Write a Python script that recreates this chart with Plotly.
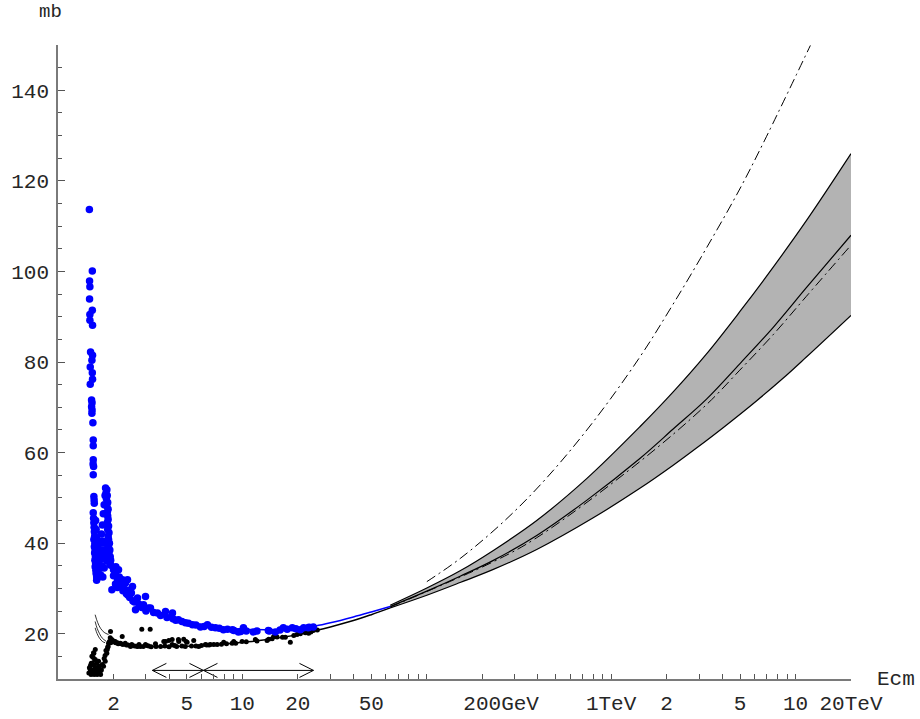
import plotly.graph_objects as go

# ---------------- data ----------------
# blue data points (Ecm in GeV, sigma in mb)
blue_E = [1.480, 1.535, 1.483, 1.489, 1.483, 1.535, 1.489, 1.489, 1.539, 1.502, 1.539, 1.527, 1.496, 1.535,
          1.539, 1.496, 1.521, 1.530, 1.521, 1.530, 1.527, 1.546, 1.553, 1.553, 1.553, 1.550, 1.559, 1.553,
          1.565, 1.570, 1.573, 1.553, 1.560, 1.565, 1.570, 1.575, 1.580, 1.565, 1.585, 1.575, 1.590, 1.580,
          1.595, 1.585, 1.600, 1.590, 1.605, 1.610, 1.620, 1.633,
          1.60, 1.61, 1.62, 1.63, 1.64, 1.65, 1.645, 1.62,
          1.64, 1.66, 1.68, 1.70, 1.72, 1.74, 1.76, 1.78, 1.80,
          1.68, 1.70, 1.72, 1.74, 1.70, 1.73, 1.76, 1.78, 1.75, 1.78, 1.80, 1.82, 1.85,
          1.811, 1.84, 1.82, 1.85, 1.83, 1.86, 1.84, 1.87, 1.85, 1.86, 1.87, 1.85, 1.88, 1.86, 1.89, 1.87,
          1.88, 1.90, 1.88, 1.91, 1.89, 1.92, 1.93, 1.927,
          2.001, 2.05, 2.103, 2.129, 1.96, 2.239, 2.323, 2.382, 2.474, 2.535, 2.50, 2.666, 2.699, 2.982,
          2.909, 3.096, 3.174, 2.633, 3.463, 3.828, 4.177, 4.501, 4.911, 5.359, 5.923, 6.462, 7.141, 7.890,
          8.829, 10.13, 9.512, 11.47, 13.83, 15.10, 16.68, 18.66, 20.62, 22.78, 24.25,
          2.0, 2.05, 2.1, 2.15, 2.2, 2.25, 2.3, 2.35, 2.4, 2.45, 2.55, 2.6, 2.75, 2.8, 2.85, 2.95, 3.0,
          3.3, 3.6, 3.9, 4.2, 4.35, 4.7, 5.1, 5.6, 6.2, 6.8, 7.5, 8.3, 9.0, 9.8, 10.5, 12.0, 14.0, 16.0,
          17.5, 19.5, 21.5, 23.0, 2.06, 1.93]
blue_sigma = [113.7, 100.1, 97.9, 96.6, 93.9, 91.4, 90.5, 89.2, 88.1, 82.2, 81.5, 80.4, 78.9, 77.6,
              76.2, 75.1, 71.6, 71.0, 70.1, 69.4, 68.7, 66.6, 62.8, 61.5, 58.4, 57.5, 56.9, 55.1,
              50.3, 49.5, 48.8, 46.7, 45.5, 44.5, 43.5, 42.5, 41.5, 40.8, 40.0, 39.2, 38.5, 37.8,
              37.0, 36.2, 35.5, 34.8, 34.0, 33.3, 32.6, 32.3,
              45.0, 43.0, 41.0, 39.0, 37.0, 35.0, 33.5, 31.8,
              34.0, 36.0, 38.0, 40.0, 42.0, 44.0, 46.5, 48.5, 50.5,
              34.5, 36.5, 38.5, 40.5, 33.0, 35.0, 37.5, 40.0, 32.5, 34.5, 36.5, 38.5, 36.0,
              52.2, 51.8, 51.0, 50.5, 49.8, 49.0, 48.2, 47.5, 46.8, 46.0, 45.2, 44.5, 43.8, 43.0, 42.3, 41.5,
              40.8, 40.0, 39.2, 38.5, 37.8, 37.0, 36.2, 35.2,
              34.1, 33.5, 31.9, 34.1, 29.7, 31.9, 31.2, 31.9, 29.7, 30.4, 29.0, 27.5, 27.9, 28.2,
              26.4, 25.7, 25.7, 25.3, 24.6, 24.9, 24.6, 23.1, 22.4, 22.0, 21.5, 22.0, 21.3, 20.9,
              20.9, 21.3, 20.4, 20.4, 20.7, 20.4, 21.3, 21.3, 20.9, 21.3, 21.5,
              32.8, 31.0, 30.2, 32.5, 30.8, 29.5, 29.8, 28.8, 28.5, 28.0, 27.2, 27.0, 26.5, 26.2, 25.8, 25.6, 25.0,
              24.7, 24.0, 23.6, 23.3, 23.0, 22.7, 22.3, 21.9, 21.6, 21.4, 21.2, 21.0, 20.7, 20.5, 20.6, 20.6, 20.6, 20.8,
              21.0, 21.1, 21.3, 21.4, 34.8, 35.2]

# black data points
black_E = [1.470, 1.535, 1.565, 1.666, 1.702, 1.593, 1.559, 1.527, 1.593, 1.515, 1.660, 1.496, 1.593, 1.695,
           1.624, 1.766, 1.804, 1.840, 1.880, 1.920, 1.927, 1.959, 2.044, 2.175, 2.315, 2.513, 2.848, 3.162,
           2.792, 3.031, 2.230, 2.474, 2.689, 2.982, 3.378, 3.828, 4.162, 4.518, 4.808, 5.016, 5.447, 5.799,
           6.303, 7.919, 8.796, 9.963, 13.61, 14.78, 17.10, 18.20, 19.79, 21.94, 24.25,
           3.748, 3.989, 4.501, 4.95, 4.162, 6.709, 8.974, 11.76, 13.88, 15.42, 20.62, 22.87,
           2.1, 2.2, 2.4, 2.6, 2.9, 3.2, 3.6, 4.0, 4.4, 4.9, 5.3, 6.0, 6.6, 7.3, 8.2, 9.2, 10.5, 12.0,
           14.5, 16.5, 19.0, 23.5, 25.5, 1.85, 1.87, 1.90, 1.93, 1.97, 2.0,
           1.50, 1.52, 1.55, 1.57, 1.60, 1.62, 1.64, 1.66, 1.68, 1.72, 1.74, 1.78, 1.80, 1.82, 1.86,
           1.55, 1.58, 1.48, 1.51, 1.57, 1.63, 1.66,
           2.05, 2.12, 2.25, 2.35, 2.5, 2.7, 2.75, 3.1, 3.4, 3.8, 4.3, 4.7, 5.6, 6.4, 7.0, 7.7]
black_sigma = [11.3, 13.5, 15.7, 12.8, 11.0, 16.5, 15.8, 15.0, 14.3, 13.5, 13.9, 12.1, 12.4, 11.7,
               11.3, 12.8, 13.9, 15.7, 17.9, 19.1, 20.5, 18.7, 18.3, 17.9, 17.9, 17.6, 21.0, 21.0,
               17.2, 17.4, 19.4, 17.2, 17.2, 17.6, 17.8, 18.3, 18.7, 18.3, 18.8, 18.1, 18.5, 17.2,
               17.6, 18.1, 17.9, 18.3, 18.5, 19.4, 19.2, 18.1, 19.8, 20.2, 20.7,
               18.3, 18.5, 18.7, 18.3, 17.6, 17.6, 18.3, 18.7, 18.8, 19.3, 20.0, 20.1,
               18.0, 17.8, 17.5, 17.3, 17.2, 17.1, 17.2, 17.1, 17.2, 17.2, 17.3, 17.4, 17.5, 17.6, 17.8, 17.9, 18.2, 18.4,
               18.9, 19.2, 19.6, 20.4, 20.8, 16.5, 17.2, 18.3, 18.0, 18.2, 18.4,
               13.0, 12.0, 11.5, 13.0, 12.0, 13.5, 12.5, 11.8, 12.2, 12.0, 13.2, 14.5, 15.2, 16.3, 17.0,
               14.8, 14.2, 12.5, 11.0, 11.0, 11.0, 12.6,
               18.0, 17.8, 17.6, 17.5, 17.4, 17.3, 17.6, 17.3, 17.2, 17.3, 17.4, 17.3, 17.3, 17.5, 17.6, 17.7]

# fit curves at low / medium energy
blue_fit_E = [1.9, 2.0, 2.2, 2.5, 3.0, 4.0, 5.0, 7.0, 10.0, 15.0, 20.0, 25.0, 30.0, 40.0, 50.0, 63.35]
blue_fit = [36.5, 33.0, 30.2, 28.0, 25.9, 23.7, 22.6, 21.6, 21.0, 20.9, 21.1, 21.7, 22.4, 23.7, 24.8, 26.0]
black_fit_E = [1.92, 2.0, 2.3, 2.8, 3.5, 4.5, 6.0, 8.0, 10.0, 13.0, 17.0, 20.0, 25.0, 30.0, 40.0, 50.0, 63.35]
black_fit = [19.4, 18.4, 17.7, 17.3, 17.15, 17.2, 17.35, 17.7, 18.1, 18.6, 19.3, 19.8, 20.7, 21.5, 22.9, 24.2, 25.7]

arc_E = [[1.59, 1.64, 1.70, 1.78, 1.88], [1.59, 1.63, 1.68, 1.74, 1.83], [1.59, 1.63, 1.68, 1.74, 1.80]]
arc_sigma = [[24.2, 22.5, 21.2, 20.3, 19.8], [22.7, 21.2, 20.0, 19.0, 18.3], [21.3, 20.0, 19.0, 18.3, 18.0]]

# high-energy band
band_top_E = [63.35, 100.1, 151.7, 229.8, 394.9, 739.4, 1432, 2171, 3292, 4986, 6957, 11455, 20000]
band_top = [26.3, 30.1, 33.9, 38.4, 45.0, 54.3, 65.7, 73.4, 81.8, 91.1, 98.9, 111.2, 126.0]
band_bot_E = [63.35, 100.1, 151.7, 229.8, 394.9, 799.8, 1432, 2171, 2904, 4049, 6139, 8558, 11455, 20000]
band_bot = [25.7, 28.5, 31.3, 34.2, 38.6, 45.6, 52.1, 57.2, 61.0, 65.5, 71.4, 76.4, 81.1, 90.3]
mid_E = [63.35, 100.1, 151.7, 229.8, 394.9, 739.4, 1432, 2171, 3292, 4986, 7553, 11455, 20000]
mid = [26.0, 29.4, 32.7, 36.2, 41.7, 49.5, 58.7, 65.2, 71.8, 79.6, 87.6, 96.4, 108.0]
dd_E = [63.35, 229.8, 394.9, 1432, 3292, 4986, 7553, 11455, 20000]
dd = [25.9, 35.9, 41.2, 58.0, 70.6, 78.2, 86.0, 94.5, 105.8]
upper_E = [100.1, 151.7, 260.4, 437.9, 800.0, 1432, 2171, 3292, 4986, 6810, 12040]
upper = [31.5, 36.6, 44.7, 54.0, 66.8, 81.1, 92.8, 105.2, 118.2, 129.0, 149.9]

# double arrows (E ranges) at sigma level
arrow_spans = [(3.25, 6.15), (6.15, 24.3)]
arrow_level = 11.9

# ticks
x_tickvals = [2, 5, 10, 20, 50, 100, 200, 1000, 2000, 5000, 10000, 20000]
x_ticktext = ["2", "5", "10", "20", "50", "", "\u00a0\u00a0\u00a0200GeV", "1TeV", "2", "5", "10", "20TeV"]
x_minor = [3, 4, 6, 7, 8, 9, 30, 40, 60, 70, 80, 90, 300, 400, 500, 600, 700, 800, 900,
           3000, 4000, 6000, 7000, 8000, 9000]
y_tickvals = [20, 40, 60, 80, 100, 120, 140]
y_minor = [15, 25, 30, 35, 45, 50, 55, 65, 70, 75, 85, 90, 95, 105, 110, 115, 125, 130, 135, 145]

# ---------------- figure ----------------
FONT = "Liberation Mono, Courier New, monospace"
TXT = "#262626"
fig = go.Figure()

# band: bottom edge, then top edge filled down to it
fig.add_trace(go.Scatter(x=band_bot_E, y=band_bot, mode="lines",
                         line=dict(color="black", width=1.2, shape="spline"), showlegend=False))
fig.add_trace(go.Scatter(x=band_top_E, y=band_top, mode="lines", fill="tonexty", fillcolor="#b3b3b3",
                         line=dict(color="black", width=1.2, shape="spline"), showlegend=False))
fig.add_trace(go.Scatter(x=mid_E, y=mid, mode="lines", line=dict(color="black", width=1.2, shape="spline"),
                         showlegend=False))
for xs, ys in [(dd_E, dd), (upper_E, upper)]:
    fig.add_trace(go.Scatter(x=xs, y=ys, mode="lines",
                             line=dict(color="black", width=1, dash="10px,4px,2px,4px", shape="spline"),
                             showlegend=False))

# low energy arcs
for xs, ys in zip(arc_E, arc_sigma):
    fig.add_trace(go.Scatter(x=xs, y=ys, mode="lines", line=dict(color="black", width=0.8, shape="spline"),
                             showlegend=False))

# fits
fig.add_trace(go.Scatter(x=black_fit_E, y=black_fit, mode="lines",
                         line=dict(color="black", width=1.5, shape="spline"), showlegend=False))
fig.add_trace(go.Scatter(x=blue_fit_E, y=blue_fit, mode="lines",
                         line=dict(color="#0000ff", width=1.5, shape="spline"), showlegend=False))

# data points
fig.add_trace(go.Scatter(x=black_E, y=black_sigma, mode="markers",
                         marker=dict(color="black", size=5, line=dict(width=0)), showlegend=False))
fig.add_trace(go.Scatter(x=blue_E, y=blue_sigma, mode="markers",
                         marker=dict(color="#0000ff", size=7.5, line=dict(width=0)), showlegend=False))

# double arrows
head_dec = 0.076   # head length in decades
head_half = 1.55   # head half width in mb
ax, ay = [], []
for e0, e1 in arrow_spans:
    ax += [e0, e1, None]
    ay += [arrow_level, arrow_level, None]
    for tip, sgn in [(e0, 1), (e1, -1)]:
        back = tip * 10 ** (sgn * head_dec)
        ax += [back, tip, back, None]
        ay += [arrow_level + head_half, arrow_level, arrow_level - head_half, None]
fig.add_trace(go.Scatter(x=ax, y=ay, mode="lines", line=dict(color="black", width=1), showlegend=False))

axis_common = dict(showgrid=False, zeroline=False, showline=True, linecolor="#7a7a7a", linewidth=1.5,
                   ticks="inside", tickcolor="#555555", tickwidth=1, automargin=False,
                   tickfont=dict(family=FONT, size=21, color=TXT))

fig.update_xaxes(type="log", range=[0, 4.30103], tickmode="array", tickvals=x_tickvals,
                 ticktext=x_ticktext, ticklen=5, ticklabelstandoff=4,
                 minor=dict(tickvals=x_minor, ticks="inside", ticklen=5, tickcolor="#555555", tickwidth=1),
                 **axis_common)
fig.update_yaxes(range=[10, 150], tickmode="array", tickvals=y_tickvals, ticklen=7, ticklabelstandoff=3,
                 minor=dict(tickvals=y_minor, ticks="inside", ticklen=4, tickcolor="#555555", tickwidth=1),
                 **axis_common)

fig.add_annotation(text="mb", xref="paper", yref="paper", x=-0.0095, y=1.052, showarrow=False,
                   xanchor="center", yanchor="middle", font=dict(family=FONT, size=19, color=TXT))
fig.add_annotation(text="Ecm", xref="paper", yref="paper", x=1.0567, y=0.0, showarrow=False,
                   xanchor="center", yanchor="middle", font=dict(family=FONT, size=21, color=TXT))

fig.update_layout(width=920, height=719, margin=dict(l=58, r=69, t=45, b=40),
                  paper_bgcolor="white", plot_bgcolor="white", showlegend=False)

# remove the default page margin so the figure fills the window exactly
fig.write_html("out.html", config={"displayModeBar": False},
               post_script="document.body.style.margin='0px';")
